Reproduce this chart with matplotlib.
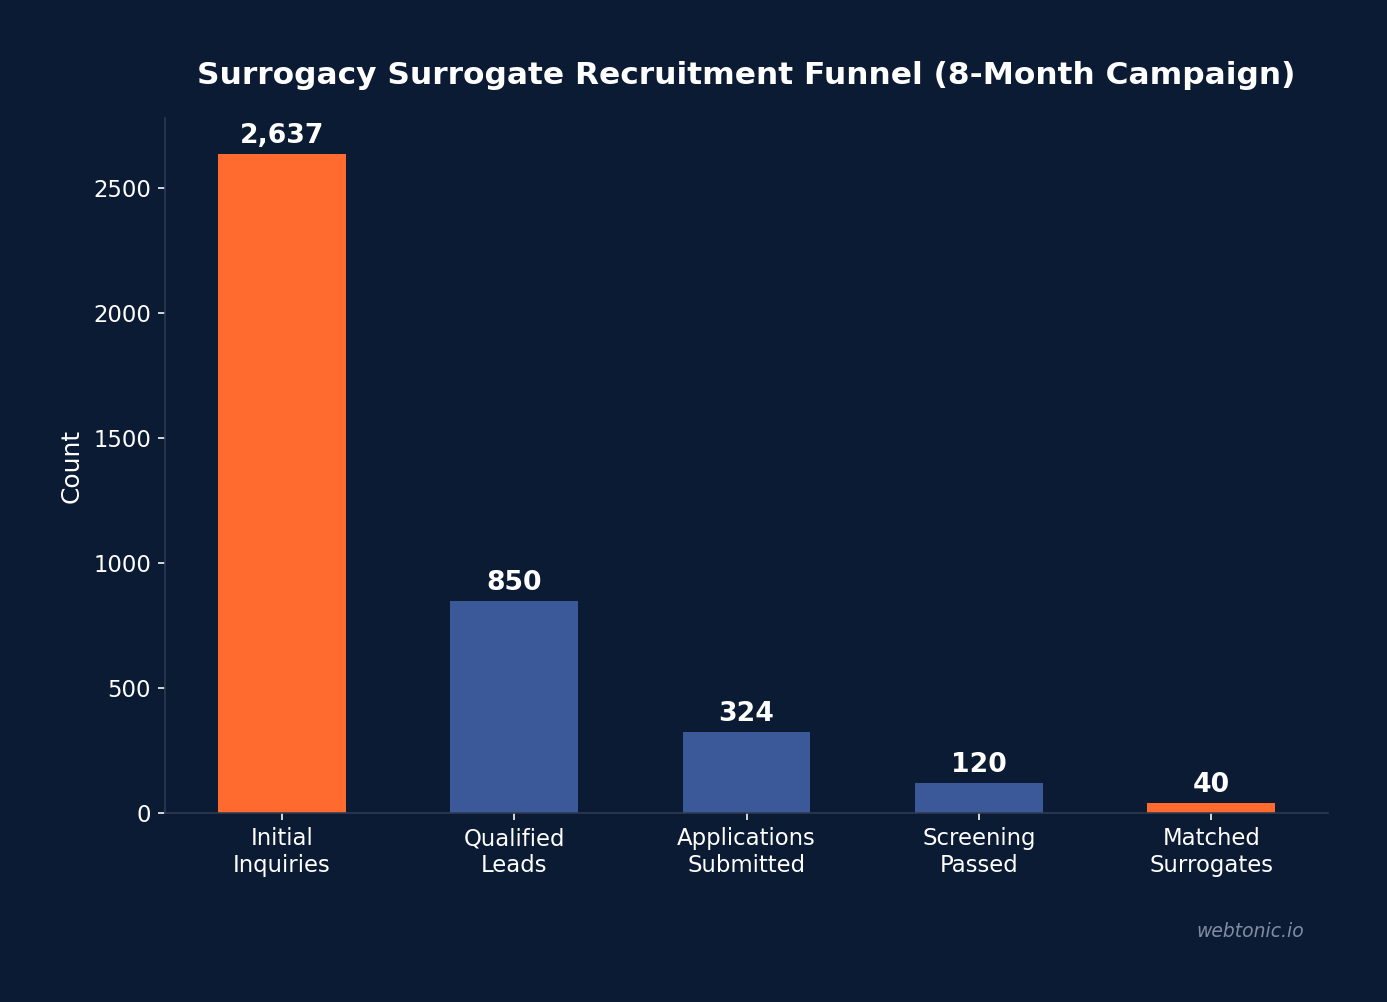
import matplotlib

matplotlib.use("Agg")
import matplotlib.pyplot as plt  # noqa: E402

STAGES = ["Initial\nInquiries", "Qualified\nLeads", "Applications\nSubmitted",
          "Screening\nPassed", "Matched\nSurrogates"]
COUNTS = [2637, 850, 324, 120, 40]
HIGHLIGHT = [True, False, False, False, True]

BG = "#0b1b33"
ORANGE = "#ff6b2e"
BLUE = "#3b5998"
SPINE = "#2e3b52"

fig, ax = plt.subplots(figsize=(1387 / 144, 1002 / 144), dpi=144)
fig.patch.set_facecolor(BG)
ax.set_facecolor(BG)
fig.subplots_adjust(left=0.119, right=0.9575, bottom=0.1886, top=0.8822)

colors = [ORANGE if h else BLUE for h in HIGHLIGHT]
bars = ax.bar(range(len(STAGES)), COUNTS, width=0.55, color=colors)
for b, v in zip(bars, COUNTS):
    ax.text(b.get_x() + b.get_width() / 2, v + 20, f"{v:,}",
            ha="center", va="bottom", fontsize=13.3, fontweight="bold", color="white")

ax.set_ylim(0, max(COUNTS) * 1.055)
ax.set_xticks(range(len(STAGES)))
ax.set_xticklabels(STAGES, linespacing=1.2)
ax.tick_params(colors="white", labelsize=11.4)
ax.tick_params(axis="x", pad=3.5)
for s in ["top", "right"]:
    ax.spines[s].set_visible(False)
for s in ["left", "bottom"]:
    ax.spines[s].set_color(SPINE)
ax.set_ylabel("Count", color="white", fontsize=12.5, labelpad=5)
ax.set_title("Surrogacy Surrogate Recruitment Funnel (8-Month Campaign)",
             color="white", fontsize=15.6, fontweight="bold", pad=17)
fig.text(0.94, 0.07, "webtonic.io", ha="right", va="center", fontsize=9.4,
         style="italic", color="#7f8ca3")

fig.savefig("out.png", dpi=144, facecolor=BG)
